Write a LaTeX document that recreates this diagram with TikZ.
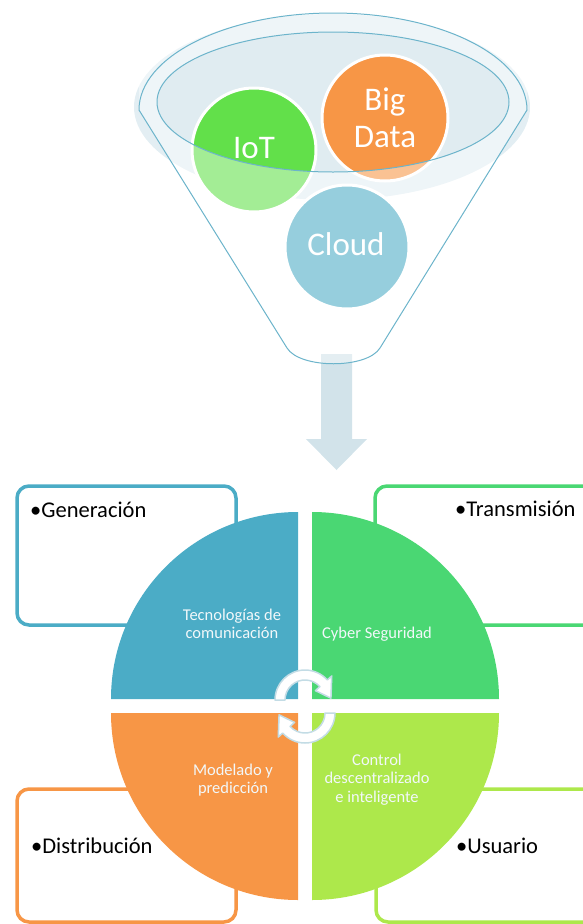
\documentclass[tikz,border=0pt]{standalone}
\usepackage{fontspec}
\setmainfont{Carlito}
\usetikzlibrary{calc}
\definecolor{cblue}{HTML}{4BACC6}
\definecolor{cgreen}{HTML}{4AD773}
\definecolor{corange}{HTML}{F79646}
\definecolor{clime}{HTML}{ADE84B}
\definecolor{ciot}{HTML}{62E04A}
\definecolor{funline}{HTML}{6CB4CB}
\definecolor{funshade}{HTML}{E3EEF3}
\definecolor{funinner}{HTML}{E0ECF1}
\definecolor{arrowfill}{HTML}{D2E3EA}
\definecolor{cycline}{HTML}{C3DCE5}
\definecolor{qwhite}{HTML}{F2F8FA}
\begin{document}
\begin{tikzpicture}[x=1pt,y=-1pt,
  boxframe/.style={line width=3.5pt, rounded corners=12pt, fill=white},
  boxtext/.style={anchor=base west, font=\fontsize{22.5}{27}\selectfont, text=black, inner sep=0pt},
  qtext/.style={anchor=base, font=\fontsize{16.5}{20}\selectfont, text=qwhite, inner sep=0pt},
  ctext/.style={anchor=base, font=\fontsize{33}{39}\selectfont, text=white, inner sep=0pt},
  bubble/.style={draw=white, line width=3pt},
  funstroke/.style={draw=funline, line width=1pt},
  cyc/.style={fill=white, draw=cycline, line width=1.5pt, line join=round}]
\useasboundingbox (0,0) rectangle (583,924);
\clip (0,0) rectangle (583,924);

% ---------- funnel ----------
\fill[funshade] (332,107) ellipse[x radius=198, y radius=93];
\fill[funinner] (333,102) ellipse[x radius=176, y radius=70];
% down arrow
\fill[arrowfill] (321,354) -- (352,354) -- (352,439) -- (367,439) -- (336.5,470) -- (306,439) -- (321,439) -- cycle;
% bubbles
\filldraw[bubble, fill=ciot] (254,150) circle[radius=62];
\filldraw[bubble, fill=corange] (385,118) circle[radius=63];
\filldraw[bubble, fill=cblue] (347,247) circle[radius=62];
\node[ctext] (iot) at (254,158) {IoT};
\node[ctext] (big) at (385,110) {Big};
\node[ctext] (data) at (385,147) {Data};
\node[ctext] (cloud) at (346,255) {Cloud};
% translucent front of the funnel
\fill[white, opacity=0.42, even odd rule]
  (139,0) -- (139,110) -- (287,348) .. controls (300,369) and (367,369) .. (380,348) -- (527,110) -- (527,0) -- cycle
  (333,102) ellipse[x radius=176, y radius=70];
% funnel outlines
\draw[funstroke] (139,110) arc[start angle=180, end angle=360, x radius=194, y radius=97]
  -- (380,348) .. controls (367,369) and (300,369) .. (287,348) -- cycle;
\draw[funstroke] (333,102) ellipse[x radius=176, y radius=70];

% ---------- side boxes ----------
\draw[boxframe, draw=cblue] (17,486) rectangle (236,625);
\draw[boxframe, draw=cgreen] (375,486) rectangle (610,625);
\draw[boxframe, draw=corange] (17,789) rectangle (236,922);
\draw[boxframe, draw=clime] (376,789) rectangle (610,922);
\node[boxtext] (gen) at (30,517) {•Generación};
\node[boxtext] (tra) at (455,516) {•Transmisión};
\node[boxtext] (dis) at (31,853) {•Distribución};
\node[boxtext] (usu) at (456,853) {•Usuario};

% ---------- quadrants ----------
\fill[cblue] (298,699) -- (298,512) arc[start angle=-90, end angle=-180, radius=187] -- cycle;
\fill[cgreen] (312,699) -- (312,512) arc[start angle=-90, end angle=0, radius=187] -- cycle;
\fill[corange] (298,713) -- (298,900) arc[start angle=90, end angle=180, radius=187] -- cycle;
\fill[clime] (312,713) -- (312,900) arc[start angle=90, end angle=0, radius=187] -- cycle;

\node[qtext] (tec1) at (232,620) {Tecnologías de};
\node[qtext] (tec2) at (232,638) {comunicación};
\node[qtext, anchor=base west] (cyb) at (322,638) {Cyber Seguridad};
\node[qtext] (mod1) at (233,775) {Modelado y};
\node[qtext] (mod2) at (233,793) {predicción};
\node[qtext] (con1) at (377,765) {Control};
\node[qtext] (con2) at (377,783) {descentralizado};
\node[qtext] (con3) at (377,802) {e inteligente};

% ---------- cycle arrows ----------
\begin{scope}[shift={(305,700)}]
  \filldraw[cyc] (180:20) -- (180:30) arc[start angle=180, end angle=318, radius=30]
    -- (318:36) -- (356:26) -- (318:14) -- (318:20)
    arc[start angle=318, end angle=180, radius=20] -- cycle;
\end{scope}
\begin{scope}[shift={(305,713)}, rotate=180]
  \filldraw[cyc] (180:20) -- (180:30) arc[start angle=180, end angle=318, radius=30]
    -- (318:36) -- (356:26) -- (318:14) -- (318:20)
    arc[start angle=318, end angle=180, radius=20] -- cycle;
\end{scope}
\end{tikzpicture}
\end{document}
